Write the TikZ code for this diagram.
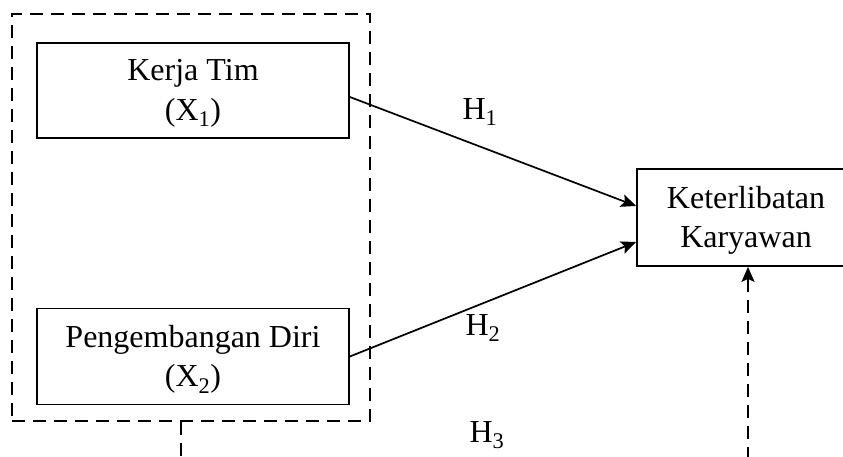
\documentclass[tikz,border=0pt]{standalone}
\usepackage{fontspec}
\setmainfont{Liberation Serif}
\usetikzlibrary{arrows.meta,calc}
\begin{document}
\begin{tikzpicture}[x=1pt,y=-1pt,
  box/.style={draw,line width=1.8pt,minimum width=312pt,minimum height=95pt,inner sep=0pt},
  txt/.style={inner sep=0pt,align=center,font=\fontsize{32}{39.5}\selectfont},
  grpbox/.style={draw,line width=1.8pt,dash pattern=on 13pt off 8pt,minimum width=358pt,minimum height=407pt,inner sep=0pt},
  lbl/.style={font=\fontsize{32}{38}\selectfont,inner sep=0pt},
  tip/.style={-{Stealth[length=15pt,width=13pt,inset=3pt]}},
  arr/.style={line width=1.7pt,tip},
  darr/.style={line width=1.8pt,dash pattern=on 13pt off 8pt}]
\useasboundingbox (0,0) rectangle (843,457);
\node[grpbox] (grp) at (191,217.5) {};
\node[box] (k1) at (193,90.5) {};
\node[box,minimum height=96pt] (k2) at (193,356.5) {};
\node[box,minimum width=218pt,minimum height=97pt] (y) at (746,217.5) {};
\node[txt] (k1t) at ($(k1)+(0,3)$) {Kerja Tim\\(X\textsubscript{1})};
\node[txt] (k2t) at ($(k2)+(0,3)$) {Pengembangan Diri\\(X\textsubscript{2})};
\node[txt] (yt) at ($(y)+(0,3)$) {Keterlibatan\\Karyawan};
\draw[arr] ($(k1.east)+(0,6.5)$) -- ($(y.west)+(0,-11.5)$);
\draw[arr] (k2.east) -- ($(y.west)+(0,24.5)$);
\node[lbl] (h1) at (480,112) {H\textsubscript{1}};
\node[lbl] (h2) at (483,328) {H\textsubscript{2}};
\node[lbl] (h3) at (487,435) {H\textsubscript{3}};
\coordinate (b1) at (181,460);
\coordinate (b2) at (748,460);
\draw[darr] (b1 |- grp.south) -- (b1);
\draw[darr,tip] (b2) -- (b2 |- y.south);
\end{tikzpicture}
\end{document}
